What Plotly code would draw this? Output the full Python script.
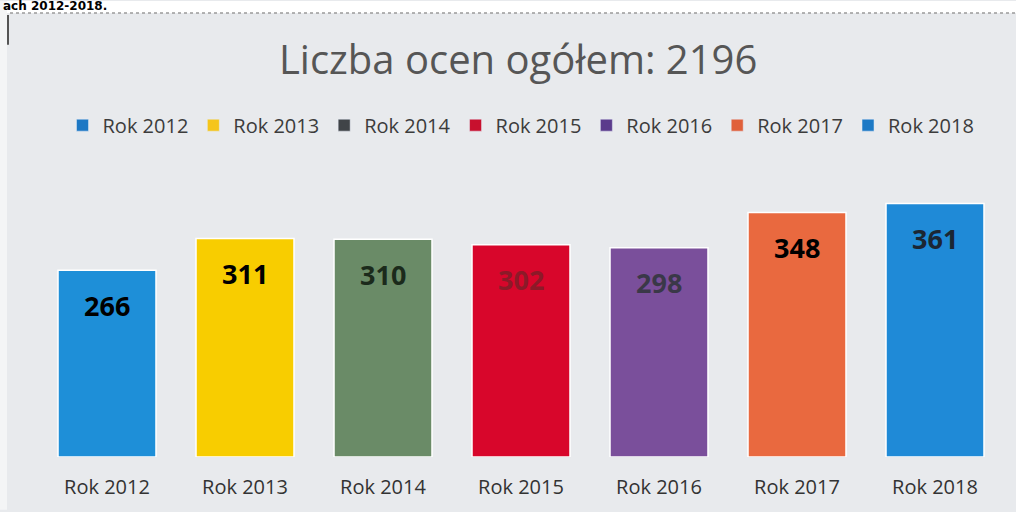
import plotly.graph_objects as go

categories = ["Rok 2012", "Rok 2013", "Rok 2014", "Rok 2015", "Rok 2016", "Rok 2017", "Rok 2018"]
values = [266, 311, 310, 302, 298, 348, 361]
bar_colors = ["#1e8fd8", "#f8cd00", "#6a8b67", "#d8062b", "#7a4f9b", "#e9693f", "#1f8ad7"]
legend_colors = ["#1d78c4", "#f5c51a", "#404448", "#c8102e", "#5b3b8c", "#e0603a", "#1c79c5"]
label_colors = ["#000000", "#000000", "#1b2a1b", "#8c1a28", "#3a3848", "#000000", "#1b2633"]
title_text = "Liczba ocen ogółem: 2196"
header_text = "ach 2012-2018."

W, H = 1016, 512
L, R, T, B = 38, 12, 150, 53
ph = H - T - B

def py(p):  # pixel y -> paper y
    return (H - B - p) / ph

def px(p):
    return (p - L) / (W - L - R)

fig = go.Figure()
for cat, v, bc, lc in zip(categories, values, bar_colors, legend_colors):
    fig.add_trace(go.Bar(
        x=[cat], y=[v], name=cat, width=0.71,
        marker=dict(color=bc, line=dict(color="white", width=1.5)),
        showlegend=False, hoverinfo="skip"))
    # legend proxy with legend colour
    fig.add_trace(go.Bar(
        x=[cat], y=[None], name=cat,
        marker=dict(color=lc), showlegend=True))

for cat, v, tc in zip(categories, values, label_colors):
    fig.add_annotation(x=cat, y=v, text="<b>%d</b>" % v, showarrow=False,
                       yanchor="middle", yshift=-35,
                       font=dict(size=27, color=tc, family="Open Sans"))

fig.add_annotation(xref="paper", yref="paper", x=px(1), y=py(5), xanchor="left",
                   yanchor="middle", text="<b>%s</b>" % header_text, showarrow=False,
                   font=dict(size=12, color="#000", family="DejaVu Sans"))

shapes = [
    dict(type="rect", xref="paper", yref="paper", x0=px(0), x1=px(W), y0=py(12), y1=py(0),
         fillcolor="white", line=dict(width=0), layer="below"),
    dict(type="rect", xref="paper", yref="paper", x0=px(0), x1=px(7), y0=py(H), y1=py(0),
         fillcolor="#f4f5f6", line=dict(width=0), layer="below"),
    dict(type="line", xref="paper", yref="paper", x0=px(10), x1=px(W), y0=py(12), y1=py(12),
         line=dict(color="#9a9a9a", width=1.5, dash="dot")),
    dict(type="line", xref="paper", yref="paper", x0=px(8), x1=px(8), y0=py(14), y1=py(44),
         line=dict(color="#555", width=2)),
]

fig.update_layout(
    width=W, height=H,
    margin=dict(l=L, r=R, t=T, b=B),
    paper_bgcolor="#e8eaed", plot_bgcolor="rgba(0,0,0,0)",
    barmode="overlay",
    shapes=shapes,
    title=dict(text=title_text, x=0.51, xanchor="center", xref="container",
               y=1 - 60 / H, yanchor="middle", yref="container",
               font=dict(size=40, color="#565656", family="Open Sans")),
    legend=dict(orientation="h", x=0.5, xanchor="center", y=py(125), yanchor="middle",
                font=dict(size=20, color="#3c3c3c", family="Open Sans"),
                bgcolor="rgba(0,0,0,0)", itemwidth=30, traceorder="normal"),
    xaxis=dict(showgrid=False, showline=False, zeroline=False, ticks="",
               tickfont=dict(size=20, color="#333", family="Open Sans"),
               ticklabelstandoff=16),
    yaxis=dict(range=[0, ph / 0.707], visible=False, showgrid=False),
    font=dict(family="Open Sans"),
)

fig.write_html("out.html", config={"displayModeBar": False},
               post_script="document.body.style.margin='0';")
